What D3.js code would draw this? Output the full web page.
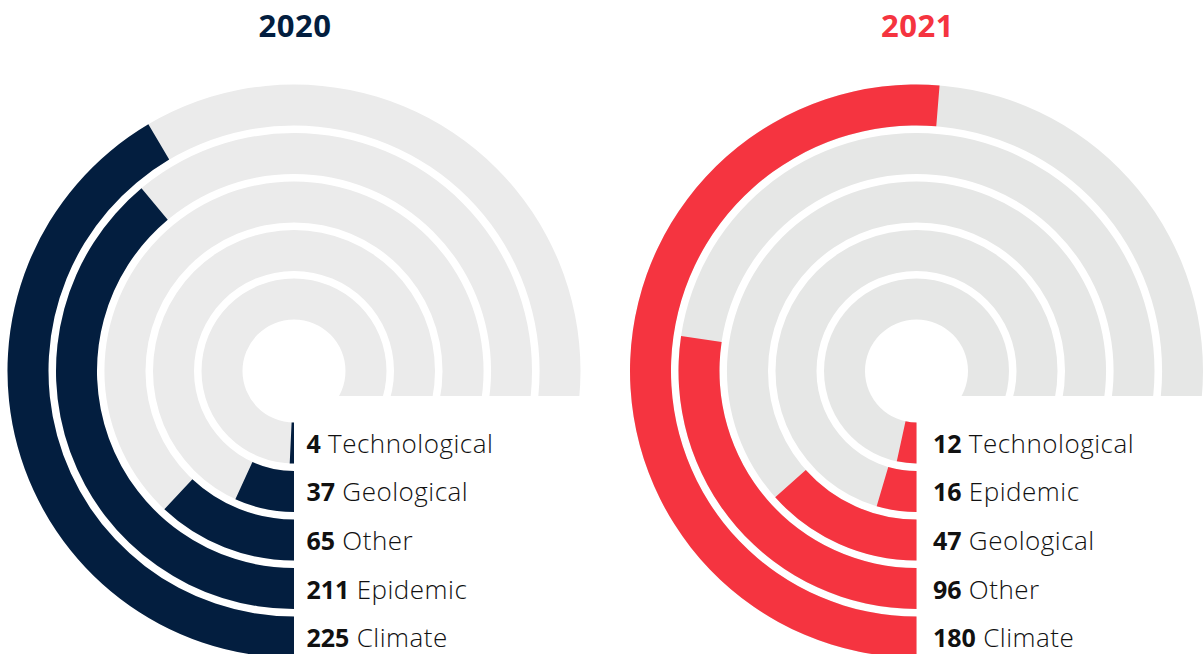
<!DOCTYPE html>
<html>
<head>
<meta charset="utf-8">
<script src="https://cdn.jsdelivr.net/npm/d3@7"></script>
<style>
  html, body { margin: 0; padding: 0; background: #ffffff; }
  svg { display: block; }
</style>
</head>
<body>
<svg id="chart" width="1203" height="654"></svg>
<script>
// ---- data ----
const years = ["2020", "2021"];
const categories2020 = ["Technological", "Geological", "Other", "Epidemic", "Climate"];
const values2020 = [4, 37, 65, 211, 225];
const categories2021 = ["Technological", "Epidemic", "Geological", "Other", "Climate"];
const values2021 = [12, 16, 47, 96, 180];

// ---- layout / style ----
const W = 1203, H = 654;
const panels = [
  { year: years[0], cats: categories2020, vals: values2020, cx: 294, cy: 371, color: "#031e3f", track: "#ebebeb", labelDx: 12.5 },
  { year: years[1], cats: categories2021, vals: values2021, cx: 916.5, cy: 371, color: "#f53440", track: "#e6e7e6", labelDx: 16.5 }
];
const innerR = 51.5, outerR = 286.5;
const font = "'Open Sans', 'Noto Sans', sans-serif";

const svg = d3.select("#chart");

panels.forEach(p => {
  const g = svg.append("g").attr("transform", `translate(${p.cx},${p.cy})`);
  const total = d3.sum(p.vals);
  const angle = d3.scaleLinear().domain([0, total]).range([Math.PI, 3 * Math.PI]);
  const radius = d3.scaleBand().domain(d3.range(p.vals.length)).range([innerR, outerR]).paddingInner(0.155);

  // gray tracks (full rings)
  g.selectAll("path.track").data(p.vals).join("path")
    .attr("class", "track")
    .attr("fill", p.track)
    .attr("d", (d, i) => d3.arc()
      .innerRadius(radius(i)).outerRadius(radius(i) + radius.bandwidth())
      .startAngle(0).endAngle(2 * Math.PI)());

  // white label area
  g.append("rect")
    .attr("x", 0).attr("y", 25)
    .attr("width", outerR + 20).attr("height", H)
    .attr("fill", "#ffffff");

  // value bars
  g.selectAll("path.bar").data(p.vals).join("path")
    .attr("class", "bar")
    .attr("fill", p.color)
    .attr("d", (d, i) => d3.arc()
      .innerRadius(radius(i)).outerRadius(radius(i) + radius.bandwidth())
      .startAngle(angle(0)).endAngle(angle(d))());

  // labels
  const lab = g.selectAll("text.lab").data(p.vals).join("text")
    .attr("class", "lab")
    .attr("x", p.labelDx)
    .attr("y", (d, i) => radius(i) + radius.bandwidth() / 2 + 10)
    .attr("font-family", font)
    .attr("font-size", 25)
    .attr("fill", "#111111");
  lab.append("tspan").attr("font-weight", 700).text(d => d);
  lab.append("tspan").attr("font-weight", 300).attr("font-size", 26).attr("letter-spacing", 0.5).text((d, i) => " " + p.cats[i]);

  // title
  svg.append("text")
    .attr("x", p.cx + 1)
    .attr("y", 37)
    .attr("text-anchor", "middle")
    .attr("font-family", font)
    .attr("font-weight", 700)
    .attr("font-size", 31)
    .attr("letter-spacing", 0.5)
    .attr("fill", p.color)
    .text(p.year);
});
</script>
</body>
</html>
